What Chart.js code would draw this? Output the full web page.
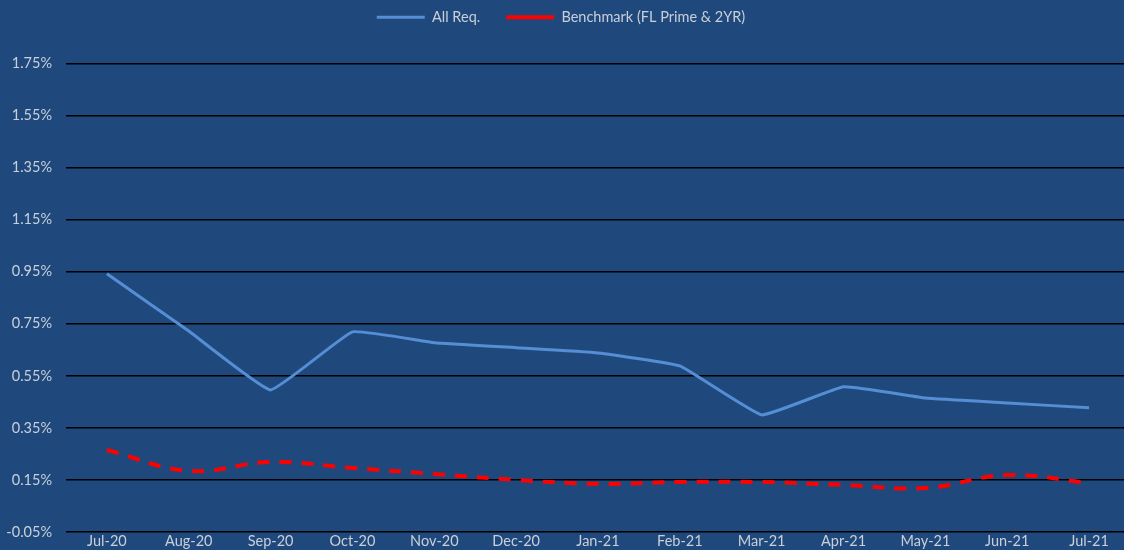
<!DOCTYPE html>
<html>
<head>
<meta charset="utf-8">
<script src="https://cdn.jsdelivr.net/npm/chart.js@4"></script>
<style>
  html, body { margin: 0; padding: 0; background: #1F497D; overflow: hidden; }
  #wrap { width: 1130px; height: 550px; }
</style>
</head>
<body>
<div id="wrap"><canvas id="rateChart" width="1130" height="550"></canvas></div>
<script>
var months = ["Jul-20", "Aug-20", "Sep-20", "Oct-20", "Nov-20", "Dec-20", "Jan-21",
              "Feb-21", "Mar-21", "Apr-21", "May-21", "Jun-21", "Jul-21"];
var allReq = [0.942, 0.722, 0.496, 0.719, 0.677, 0.658, 0.638, 0.588, 0.400, 0.508, 0.465, 0.446, 0.427];
var benchmark = [0.265, 0.185, 0.219, 0.196, 0.173, 0.150, 0.135, 0.142, 0.142, 0.131, 0.119, 0.169, 0.138];

// push the plot area down below the legend, and nudge legend left a little
var legendGap = {
    id: 'legendGap',
    beforeInit: function (chart) {
        var fit = chart.legend.fit;
        chart.legend.fit = function () {
            fit.bind(chart.legend)();
            this.height += 29;
        };
    },
    afterLayout: function (chart) {
        chart.legend.left -= 4;
        chart.legend.right -= 4;
    }
};

document.addEventListener("DOMContentLoaded", function () {
    var ctx = document.getElementById("rateChart").getContext("2d");
    var labelColor = "#C9CFD8";
    var fnt = { family: 'Lato', size: 14.5, lineHeight: 1 };

    new Chart(ctx, {
        type: 'line',
        data: {
            labels: months,
            datasets: [{
                label: 'All Req.',
                data: allReq,
                borderColor: '#558ED5',
                backgroundColor: '#558ED5',
                borderWidth: 3,
                pointRadius: 0,
                tension: 0.1,
                fill: false
            }, {
                label: 'Benchmark (FL Prime & 2YR)',
                data: benchmark,
                borderColor: '#FF0000',
                backgroundColor: '#FF0000',
                borderWidth: 4,
                borderDash: [12, 10],
                pointRadius: 0,
                tension: 0.4,
                fill: false
            }]
        },
        options: {
            responsive: false,
            animation: false,
            layout: { padding: { left: 0, right: 0, top: -16, bottom: 0 } },
            plugins: {
                legend: {
                    position: 'top',
                    labels: {
                        color: labelColor,
                        font: fnt,
                        usePointStyle: true,
                        pointStyleWidth: 48,
                        pointStyle: 'line',
                        padding: 26
                    }
                },
                tooltip: { enabled: false }
            },
            scales: {
                x: {
                    offset: true,
                    grid: { display: false, drawTicks: false },
                    border: { display: false },
                    afterFit: function (scale) {
                        scale.height = 18;
                        scale.paddingLeft = 0;
                        scale.paddingRight = 0;
                    },
                    ticks: {
                        color: labelColor,
                        font: fnt,
                        maxRotation: 0,
                        autoSkip: false,
                        padding: 2
                    }
                },
                y: {
                    min: -0.05,
                    max: 1.75,
                    grid: { color: '#000000', lineWidth: 1.5, drawTicks: false },
                    border: { display: false },
                    afterFit: function (scale) {
                        scale.width = 66;
                        scale.paddingTop = 0;
                        scale.paddingBottom = 0;
                    },
                    ticks: {
                        stepSize: 0.2,
                        color: labelColor,
                        font: fnt,
                        padding: 14,
                        callback: function (v) { return v.toFixed(2) + '%'; }
                    }
                }
            }
        },
        plugins: [legendGap]
    });
});
</script>
</body>
</html>
